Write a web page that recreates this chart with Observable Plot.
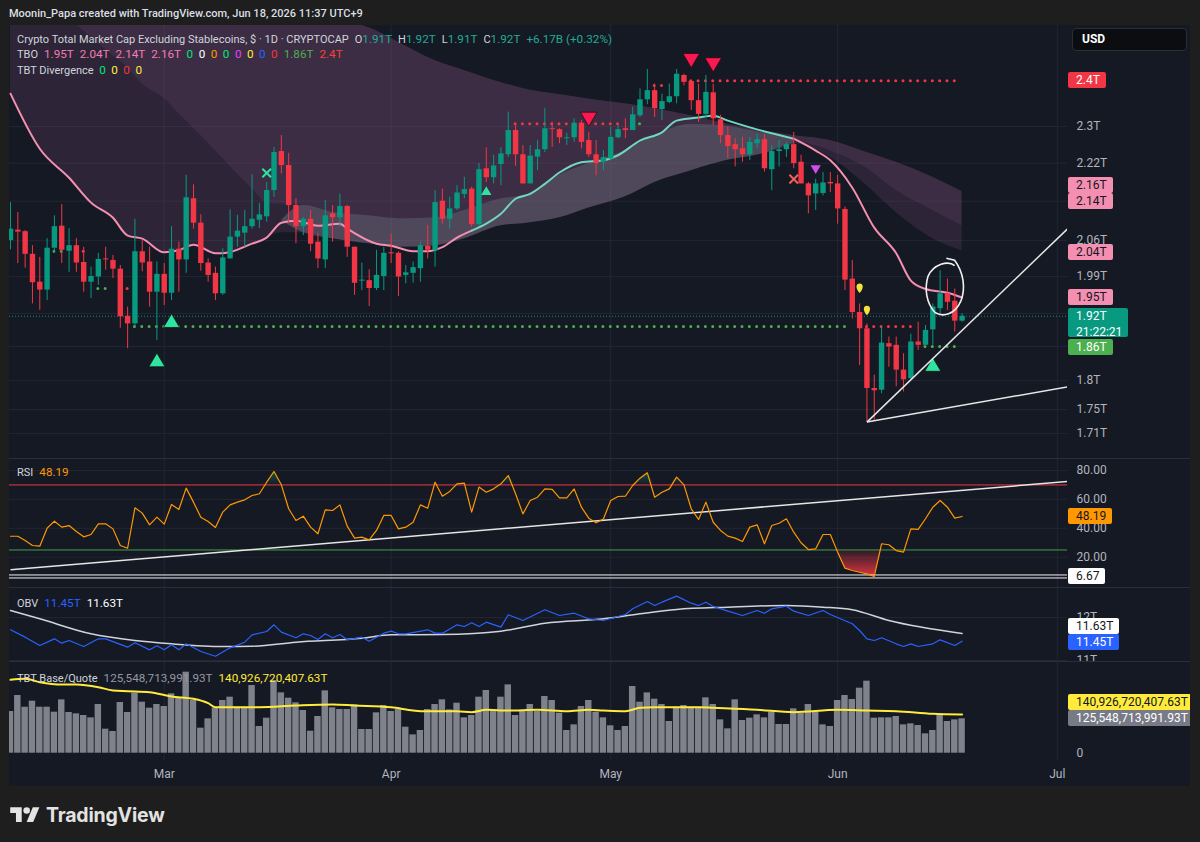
<!DOCTYPE html>
<html>
<head>
<meta charset="utf-8">
<script src="https://cdn.jsdelivr.net/npm/d3@7"></script>
<script src="https://cdn.jsdelivr.net/npm/@observablehq/plot@0.6"></script>
<style>
html,body{margin:0;padding:0;}
body{width:1200px;height:842px;background:#1e1e1e;position:relative;overflow:hidden;font-family:Roboto,"Noto Sans",sans-serif;color:#d1d4dc;}
#hdr{position:absolute;left:9px;top:5px;font-size:11px;font-weight:500;color:#dcdee3;white-space:nowrap;line-height:18px;}
#chart{position:absolute;left:9px;top:25px;width:1181px;height:761px;background:#151924;overflow:hidden;}
.pane{position:absolute;left:0;}
.pane svg{display:block;}
.sep{position:absolute;left:0;width:1181px;height:1px;background:#2a2e39;}
.leg{position:absolute;left:8px;font-size:11.7px;line-height:16px;white-space:nowrap;color:#d1d4dc;}
.leg span{margin-left:6px;}
.leg span.n{margin-left:0;font-size:11px;}
.leg span.z{margin-left:5.5px;}
.tag{position:absolute;left:1059px;font-size:12px;line-height:16px;padding:0 6px 0 8px;border-radius:2px;white-space:nowrap;box-sizing:border-box;}
#usd{position:absolute;left:1063px;top:3px;width:115px;height:23px;background:#0c0d10;border:1px solid #2a2e39;border-radius:4px;box-sizing:border-box;color:#fff;font-weight:700;font-size:12px;line-height:21px;padding-left:9px;}
#logo{position:absolute;left:10px;top:803px;display:flex;align-items:center;}
</style>
</head>
<body>
<svg width="0" height="0" style="position:absolute">
  <defs>
    <linearGradient id="osGrad" x1="0" y1="0" x2="0" y2="1">
      <stop offset="0" stop-color="#f23645" stop-opacity="0.08"/>
      <stop offset="1" stop-color="#f23645" stop-opacity="0.9"/>
    </linearGradient>
    <linearGradient id="obGrad" x1="0" y1="0" x2="0" y2="1">
      <stop offset="0" stop-color="#089981" stop-opacity="0.45"/>
      <stop offset="1" stop-color="#089981" stop-opacity="0.03"/>
    </linearGradient>
  </defs>
</svg>
<div id="hdr">Moonin_Papa created with TradingView.com, Jun 18, 2026 11:37 UTC+9</div>
<div id="chart">
  <div id="usd">USD</div>
</div>
<div id="logo">
  <svg width="30" height="23" viewBox="0 0 36 28"><path fill="#e3e3e3" d="M14 22H7V11H0V4h14v18zM28 22h-8l7.5-18h8L28 22z"/><circle cx="20" cy="8" r="4" fill="#e3e3e3"/></svg>
  <span style="font:700 19.5px Inter,Roboto,sans-serif;color:#e3e3e3;margin-left:6px;letter-spacing:-0.2px">TradingView</span>
</div>
<script>
// ---------------- DATA ----------------
// daily candles from 2026-02-08 (index 0) to 2026-06-18 (index 130), values in T (trillions USD)
const open = [2.060,2.081,2.078,2.033,1.979,1.964,2.045,2.089,2.039,2.050,
2.017,1.979,1.989,2.024,2.021,2.004,1.915,1.901,2.038,2.018,
1.960,1.994,1.958,2.043,2.022,2.145,2.095,2.016,1.996,1.957,
2.024,2.067,2.075,2.088,2.101,2.108,2.162,2.245,2.215,2.131,
2.088,2.103,2.057,2.022,2.114,2.106,2.129,2.047,1.981,1.982,
1.967,1.990,2.036,2.035,1.992,1.996,2.005,2.049,2.040,2.140,
2.103,2.124,2.154,2.165,2.092,2.208,2.189,2.217,2.238,2.291,
2.238,2.176,2.233,2.249,2.295,2.293,2.273,2.275,2.307,2.269,
2.238,2.222,2.229,2.275,2.295,2.291,2.324,2.360,2.381,2.338,
2.354,2.367,2.416,2.402,2.358,2.327,2.376,2.315,2.280,2.260,
2.251,2.238,2.262,2.271,2.206,2.245,2.249,2.260,2.222,2.176,
2.155,2.156,2.179,2.176,2.123,1.985,1.922,1.892,1.786,1.783,
1.865,1.862,1.818,1.803,1.868,1.862,1.890,1.929,1.957,1.943,
1.906];
const high = [2.137,2.117,2.080,2.050,2.027,2.064,2.110,2.133,2.084,2.064,
2.047,2.008,2.035,2.047,2.031,2.011,1.932,2.103,2.060,2.047,
2.018,2.015,2.088,2.057,2.194,2.174,2.112,2.024,2.008,2.044,
2.122,2.111,2.121,2.195,2.135,2.179,2.254,2.280,2.241,2.145,
2.107,2.121,2.074,2.141,2.131,2.155,2.131,2.047,2.016,2.003,
2.041,2.047,2.073,2.038,2.011,2.018,2.057,2.090,2.162,2.165,
2.148,2.172,2.190,2.169,2.219,2.253,2.237,2.253,2.332,2.306,
2.258,2.258,2.269,2.340,2.309,2.295,2.285,2.317,2.313,2.287,
2.269,2.247,2.299,2.302,2.317,2.343,2.385,2.430,2.396,2.373,
2.396,2.430,2.419,2.404,2.396,2.416,2.396,2.325,2.299,2.273,
2.276,2.276,2.283,2.282,2.258,2.269,2.265,2.287,2.237,2.179,
2.186,2.200,2.200,2.194,2.128,2.021,1.938,1.901,1.809,1.895,
1.877,1.877,1.847,1.882,1.904,1.898,1.938,2.001,1.985,1.966,
1.920];
const low = [2.042,2.015,2.006,1.938,1.926,1.944,2.035,2.015,1.998,1.998,
1.960,1.948,1.973,2.002,1.986,1.893,1.856,1.895,1.999,1.932,
1.871,1.935,1.944,1.960,1.996,2.083,2.000,1.979,1.944,1.954,
2.024,2.047,2.047,2.083,2.084,2.097,2.148,2.197,2.094,2.054,
2.070,2.038,2.005,2.005,2.057,2.087,2.027,1.954,1.963,1.933,
1.963,1.963,2.015,1.952,1.976,1.977,1.979,2.024,2.008,2.093,
2.083,2.121,2.145,2.087,2.090,2.179,2.176,2.172,2.232,2.213,
2.175,2.176,2.204,2.243,2.254,2.262,2.258,2.265,2.251,2.232,
2.193,2.204,2.226,2.273,2.273,2.291,2.320,2.349,2.320,2.313,
2.351,2.351,2.392,2.336,2.309,2.317,2.302,2.262,2.229,2.212,
2.222,2.226,2.251,2.201,2.162,2.212,2.232,2.208,2.176,2.114,
2.121,2.151,2.158,2.093,1.963,1.910,1.826,1.729,1.732,1.777,
1.823,1.789,1.780,1.800,1.853,1.862,1.862,1.920,1.926,1.886,
1.904];
const close = [2.083,2.077,2.033,1.978,1.964,2.045,2.088,2.041,2.050,2.016,
1.979,1.990,2.023,2.022,2.004,1.914,1.901,2.038,2.016,1.960,
1.994,1.958,2.043,2.022,2.147,2.095,2.015,1.992,1.957,2.026,
2.067,2.079,2.088,2.103,2.112,2.162,2.243,2.215,2.131,2.088,
2.103,2.053,2.024,2.110,2.106,2.129,2.047,1.977,1.983,1.967,
1.992,2.035,2.034,1.989,1.997,2.007,2.050,2.041,2.137,2.103,
2.124,2.157,2.164,2.092,2.206,2.189,2.214,2.240,2.291,2.238,
2.176,2.235,2.249,2.295,2.293,2.275,2.275,2.307,2.265,2.238,
2.219,2.232,2.276,2.293,2.291,2.326,2.360,2.381,2.340,2.356,
2.367,2.419,2.400,2.358,2.327,2.377,2.317,2.280,2.256,2.249,
2.238,2.265,2.271,2.208,2.245,2.249,2.260,2.219,2.176,2.151,
2.176,2.178,2.176,2.124,1.983,1.922,1.892,1.786,1.782,1.866,
1.859,1.818,1.801,1.868,1.862,1.889,1.932,1.957,1.941,1.906,
1.915];

// TBO fast line (read at day offsets)
const fastDays = [0,4,8,11,14,16,18,21,23,25,28,29,33,35,37,39,42,45,46,50,52,55,57,59,61,63,65,67,69,71,73,75,78,81,83,86,89,91,94,96,98,101,104,107,110,112,115,118,121,123,125,128,130];
const fastVals = [2.374,2.251,2.189,2.137,2.106,2.070,2.064,2.037,2.041,2.052,2.035,2.035,2.054,2.066,2.096,2.100,2.090,2.094,2.084,2.054,2.050,2.039,2.039,2.047,2.066,2.080,2.094,2.114,2.145,2.155,2.176,2.200,2.222,2.226,2.237,2.269,2.287,2.313,2.320,2.324,2.313,2.298,2.285,2.273,2.247,2.226,2.168,2.086,2.035,1.982,1.966,1.959,1.950];

// TBO cloud edges
const cloudDays = [0,4,8,11,14,16,18,21,23,25,28,29,33,35,37,40,44,49,53,58,62,67,70,75,79,84,88,93,98,103,107,112,117,121,126,130];
const cloudTop = [2.700,2.690,2.680,2.670,2.655,2.645,2.640,2.630,2.620,2.610,2.600,2.595,2.580,2.575,2.567,2.560,2.548,2.530,2.495,2.451,2.428,2.400,2.386,2.372,2.362,2.351,2.340,2.324,2.305,2.290,2.280,2.269,2.243,2.222,2.190,2.160];
const cloudMid = [2.679,2.615,2.553,2.507,2.463,2.435,2.396,2.363,2.329,2.296,2.247,2.230,2.166,2.137,2.134,2.131,2.117,2.110,2.104,2.106,2.121,2.145,2.151,2.195,2.220,2.247,2.280,2.305,2.300,2.285,2.270,2.247,2.209,2.162,2.121,2.090];
const cloudBottom = [2.374,2.251,2.189,2.137,2.106,2.070,2.064,2.037,2.041,2.052,2.035,2.035,2.054,2.066,2.076,2.076,2.064,2.054,2.047,2.050,2.064,2.090,2.094,2.106,2.126,2.149,2.179,2.204,2.226,2.241,2.262,2.232,2.172,2.116,2.064,2.040];
const bandDays = [37,40,44,49,53,58,62,67,70,75,79,84,88,93,98,103,107];
const bandTop = [2.100,2.131,2.117,2.110,2.104,2.106,2.121,2.145,2.151,2.195,2.220,2.247,2.280,2.305,2.300,2.285,2.270];
const bandBottom = [2.100,2.076,2.064,2.054,2.047,2.050,2.064,2.090,2.094,2.106,2.126,2.149,2.179,2.204,2.226,2.241,2.262];

// dotted levels [startDay, endDay, value]
const redLevels = [[93,130,2.404],[88,90,2.393],[69,84,2.306],[10,11,2.039],[16,16,1.967],[116,124,1.896]];
const greenLevels = [[6,8,2.039],[12,14,1.967],[17,115,1.896],[86,87,2.306],[125,130,1.860]];

// signal markers [day, value]
const upBig = [[20,1.836],[22,1.907],[126,1.828]];
const upSmall = [[65,2.162]];
const downBig = [[93,2.451],[96,2.441],[79,2.316]];
const downMagenta = [[110,2.206]];
const crossGreen = [[35,2.199]];
const crossRed = [[107,2.186]];
const yellowMarks = [[116,1.968],[117,1.926]];

// drawings [day1, value1, day2, value2]
const mainTrend = [[117,1.729,144.5,2.085],[117,1.729,144.5,1.789]];
const circleAnno = [[127.6,1.967]];
const rsiTrend = [[0,11.3,144.5,72.4]];
const rsiLowLine = 6.67;

// RSI (daily)
const rsi = [34.5,34.5,31.6,28.1,27.6,40.1,44.9,40.8,41.9,37.8,
34.1,35.7,43.1,43.1,39.6,28.1,26.2,54.2,50.5,42.4,
47.7,42.9,56.5,53.0,67.8,58.1,47.7,44.7,40.6,51.2,
56.2,58.1,59.7,62.7,63.9,71.9,79.3,70.1,53.5,45.4,
48.4,40.8,36.2,52.8,52.3,56.2,41.5,33.2,33.9,32.0,
38.5,48.9,48.9,39.6,40.8,44.2,56.2,53.9,71.9,62.2,
65.5,70.8,71.2,51.2,68.5,65.0,67.3,70.8,76.5,63.9,
50.0,59.2,61.5,67.3,66.9,61.1,61.1,67.3,54.6,47.0,
43.8,46.5,59.2,62.0,62.2,69.6,74.7,78.4,61.5,65.0,
67.3,75.4,70.1,53.5,46.1,58.1,44.2,38.5,34.6,33.2,
30.9,40.8,42.4,29.3,41.9,43.5,46.6,37.3,30.0,25.3,
25.8,35.7,35.7,23.5,12.4,10.8,9.6,8.5,6.67,29.3,
28.6,24.6,23.5,39.6,39.2,46.6,54.6,59.2,54.6,47.0,
48.19];
const rsiLevels = {upper: 70, lower: 25};

// OBV (T) at day offsets
const obvDays = [0,2,4,6,7,8,10,12,13,16,17,19,20,21,22,23,24,26,28,30,32,33,35,36,37,39,40,41,42,43,44,45,46,48,49,51,52,53,54,57,58,59,61,62,63,64,65,67,68,70,73,75,77,79,81,84,85,87,88,89,91,93,94,95,96,98,100,102,103,104,106,107,109,111,112,115,116,117,118,119,121,122,123,124,126,127,129,130];
const obvVals = [11.714,11.543,11.349,11.504,11.403,11.465,11.326,11.504,11.504,11.310,11.412,11.248,11.341,11.248,11.364,11.248,11.388,11.209,11.100,11.295,11.426,11.597,11.674,11.830,11.659,11.528,11.621,11.581,11.488,11.621,11.528,11.605,11.481,11.543,11.450,11.636,11.682,11.621,11.621,11.714,11.636,11.636,11.830,11.791,11.876,11.791,11.891,11.775,12.063,11.930,12.179,12.047,12.100,11.970,11.930,12.070,12.202,12.372,12.279,12.356,12.496,12.333,12.279,12.356,12.256,12.147,12.047,12.163,12.100,12.202,12.263,12.147,12.047,12.163,12.070,11.853,11.698,11.504,11.465,11.528,11.388,11.326,11.388,11.326,11.388,11.481,11.349,11.450];
const obvMaDays = [0,4,11,17,22,29,33,39,48,52,59,67,73,81,86,91,98,106,111,115,120,130];
const obvMaVals = [12.163,11.970,11.621,11.465,11.388,11.326,11.333,11.426,11.519,11.597,11.605,11.682,11.868,11.970,12.086,12.186,12.240,12.279,12.240,12.179,11.930,11.630];

// TBT Base/Quote volume (billions of T), daily
const volume = [152.2,210.6,167.9,189.9,167.9,167.9,149.8,194.8,148.6,143.7,
137.6,129.1,177.8,87.7,79.2,185.1,148.6,219.1,186.3,164.4,
177.8,170.5,216.7,200.9,295.8,192.4,91.4,125.4,165.6,192.4,
204.5,167.9,167.9,247.1,97.5,127.9,265.4,220.3,200.9,183.9,
155.9,80.4,134.0,227.6,165.6,159.5,159.5,176.5,86.5,86.5,
147.3,174.1,152.2,159.5,95.0,67.0,82.9,159.5,177.8,194.8,
158.3,182.6,129.1,137.6,204.5,228.9,155.9,204.5,249.5,137.6,
153.4,177.8,152.2,207.0,192.4,146.1,82.9,103.5,170.5,192.4,
149.8,129.1,100.0,82.9,97.5,243.5,186.3,220.3,197.2,177.8,
115.7,167.9,174.1,167.9,167.9,202.1,177.8,121.8,88.9,194.8,
119.4,127.9,140.0,129.1,149.8,104.8,104.8,161.9,146.1,177.8,
149.8,103.5,97.5,192.4,210.6,196.0,237.4,262.9,127.9,129.1,
129.1,134.0,103.5,107.2,101.1,70.7,82.9,137.6,115.7,121.8,
125.549];
const volMaDays = [0,2,4,7,9,12,14,16,19,22,25,27,28,31,34,39,44,47,52,55,56,61,63,65,68,72,76,79,81,84,86,88,94,96,102,107,113,117,121,126,130];
const volMaVals = [267.8,271.5,259.3,250.8,250.8,241.0,228.9,226.4,222.8,207.0,198.5,182.6,167.9,167.9,167.9,174.1,177.8,174.1,167.9,155.9,153.4,153.4,149.8,158.3,155.9,158.3,153.4,158.3,155.9,153.4,165.6,167.9,167.9,165.6,158.3,149.8,158.3,155.9,153.4,143.7,140.93];

// axis ticks (gridlines at all; labels only where not covered by a value tag)
const priceTicks = [2.3,2.22,2.14,2.06,1.99,1.92,1.86,1.8,1.75,1.71];
const priceTickLabels = [2.3,2.22,2.06,1.99,1.8,1.75,1.71];
const rsiTicks = [20,40,60,80];
const obvTicks = [11,12];
const volTicks = [0];
const monthStarts = ["2026-03-01","2026-04-01","2026-05-01","2026-06-01","2026-07-01"];
const lastVolText = "125,548,713,991.93T";
const lastVolMaText = "140,926,720,407.63T";
const tboLast = [1.95, 2.04, 2.14, 2.16];

// ---------------- CHART ----------------
const FONT = 'Roboto, "Noto Sans", sans-serif';
const START = Date.UTC(2026, 1, 8), DAY = 864e5;
const at = i => new Date(START + i * DAY);
const W = 1181, MR = 123;
const xOpt = {type: "utc", domain: [at(-0.1366), at(144.4)], axis: null};
const months = monthStarts.map(s => new Date(s + "T00:00:00Z"));
const GRID = "#222633";
const UP = "#089981", DOWN = "#f23645";
const style = {background: "transparent", color: "#b2b5be", fontFamily: FONT, fontSize: "12px"};
const pair = (days, vals) => days.map((d, i) => ({date: at(d), v: vals[i]}));
const pt = a => a.map(d => ({date: at(d[0]), v: d[1]}));

function pane(height, y, marks) {
  return Plot.plot({width: W, height, marginLeft: 0, marginRight: MR, marginTop: 0, marginBottom: 0,
    style, x: xOpt, y: Object.assign({label: null}, y), marks});
}
const rightAxis = (ticks, fmt) => Plot.axisY(ticks, {anchor: "right", tickSize: 0, tickPadding: 9, tickFormat: fmt, label: null});

const candles = open.map((o, i) => ({date: at(i), o, h: high[i], l: low[i], c: close[i], col: close[i] >= o ? UP : DOWN}));
const cloud = cloudDays.map((d, i) => ({date: at(d), top: cloudTop[i], mid: cloudMid[i], bottom: cloudBottom[i]}));
const band = bandDays.map((d, i) => ({date: at(d), top: bandTop[i], bottom: bandBottom[i]}));
const fast = pair(fastDays, fastVals);
const fastP1 = fast.filter(d => d.date <= at(63));
const fastT = fast.filter(d => d.date >= at(63) && d.date <= at(107));
const fastP2 = fast.filter(d => d.date >= at(107));

const triUp = {draw(ctx, size) { const r = Math.sqrt(size / Math.PI), w = r * 1.35, h = r * 1.15; ctx.moveTo(0, -h); ctx.lineTo(w, h); ctx.lineTo(-w, h); ctx.closePath(); }};
const triDown = {draw(ctx, size) { const r = Math.sqrt(size / Math.PI), w = r * 1.35, h = r * 1.15; ctx.moveTo(-w, -h); ctx.lineTo(w, -h); ctx.lineTo(0, h); ctx.closePath(); }};
const drop = {draw(ctx, size) { const r = Math.sqrt(size / Math.PI); ctx.moveTo(0, r * 1.3); ctx.bezierCurveTo(-r * 1.2, 0, -r, -r * 1.2, 0, -r * 1.2); ctx.bezierCurveTo(r, -r * 1.2, r * 1.2, 0, 0, r * 1.3); ctx.closePath(); }};
const ellipse = {draw(ctx, size) {
  const r = Math.sqrt(size / Math.PI), rx = r * 0.68, ry = r, k = 0.5523;
  ctx.moveTo(rx * 0.55, -ry * 0.85);
  ctx.bezierCurveTo(rx * 0.2, -ry * 1.05, -rx * 0.6, -ry * 0.9, -rx * 0.9, -ry * 0.45);
  ctx.bezierCurveTo(-rx * 1.1, 0, -rx * 1.0, ry * k, -rx * 0.5, ry * 0.9);
  ctx.bezierCurveTo(-rx * 0.1, ry * 1.05, rx * k, ry, rx * 0.9, ry * 0.45);
  ctx.bezierCurveTo(rx * 1.15, 0, rx * 1.05, -ry * 0.6, rx * 0.55, -ry * 1.05);
  ctx.lineTo(rx * 0.1, -ry * 1.12);
}};

const levelMark = (lv, color) => Plot.ruleY(lv, {x1: d => at(d[0]), x2: d => at(d[1]), y: d => d[2], stroke: color, strokeWidth: 3, strokeLinecap: "round", strokeDasharray: "0 7.32"});

const mainPlot = pane(433, {type: "log", domain: [1.6693, 2.5355]}, [
  Plot.gridY(priceTicks, {stroke: GRID, strokeOpacity: 1}),
  Plot.gridX(months, {stroke: GRID, strokeOpacity: 1}),
  Plot.areaY(cloud, {x: "date", y1: "bottom", y2: "top", fill: "rgb(150,90,140)", fillOpacity: 0.19, curve: "monotone-x", clip: true}),
  Plot.areaY(cloud, {x: "date", y1: "mid", y2: "top", fill: "rgb(155,100,150)", fillOpacity: 0.14, curve: "monotone-x", clip: true}),
  Plot.areaY(band, {x: "date", y1: "bottom", y2: "top", fill: "rgb(210,200,220)", fillOpacity: 0.21, curve: "monotone-x", clip: true}),
  Plot.ruleY([close[close.length - 1]], {stroke: UP, strokeDasharray: "1 2", strokeOpacity: 0.9}),
  levelMark(redLevels, "#f23645"),
  levelMark(greenLevels, "#4caf50"),
  Plot.line(fastP1, {x: "date", y: "v", stroke: "#f48fb1", strokeWidth: 2, curve: "monotone-x"}),
  Plot.line(fastT, {x: "date", y: "v", stroke: "#6fd8bd", strokeWidth: 2, curve: "monotone-x"}),
  Plot.line(fastP2, {x: "date", y: "v", stroke: "#f48fb1", strokeWidth: 2, curve: "monotone-x"}),
  Plot.ruleX(candles, {x: "date", y1: "l", y2: "h", stroke: "col", strokeWidth: 1}),
  Plot.ruleX(candles, {x: "date", y1: "o", y2: "c", stroke: "col", strokeWidth: 5.4}),
  Plot.dot(pt(upBig), {x: "date", y: "v", symbol: triUp, r: 6, fill: "#2fe3a2", stroke: "#0c1a14", strokeWidth: 0.8}),
  Plot.dot(pt(upSmall), {x: "date", y: "v", symbol: triUp, r: 3.8, fill: "#2fe3a2"}),
  Plot.dot(pt(downBig), {x: "date", y: "v", symbol: triDown, r: 6.2, fill: "#f7194f", stroke: "#2a0a10", strokeWidth: 0.8}),
  Plot.dot(pt(downMagenta), {x: "date", y: "v", symbol: triDown, r: 3.8, fill: "#d24bf2"}),
  Plot.dot(pt(crossGreen), {x: "date", y: "v", symbol: "times", r: 4, stroke: "#2fe3a2", strokeWidth: 2}),
  Plot.dot(pt(crossRed), {x: "date", y: "v", symbol: "times", r: 4, stroke: "#f0605a", strokeWidth: 2}),
  Plot.dot(pt(yellowMarks), {x: "date", y: "v", symbol: drop, r: 3.8, fill: "#f5e23a"}),
  Plot.link(mainTrend, {x1: d => at(d[0]), y1: d => d[1], x2: d => at(d[2]), y2: d => d[3], stroke: "#e6e6e6", strokeWidth: 1.5, clip: true}),
  Plot.dot(pt(circleAnno), {x: "date", y: "v", symbol: ellipse, r: 27, fill: "none", stroke: "#f0f0f0", strokeWidth: 1.6}),
  rightAxis(priceTickLabels, d => d + "T")
]);

const rsiData = rsi.map((v, i) => ({date: at(i), v}));
const rsiPlot = pane(128, {domain: [-0.97, 87.61]}, [
  Plot.gridY(rsiTicks, {stroke: GRID, strokeOpacity: 1}),
  Plot.gridX(months, {stroke: GRID, strokeOpacity: 1}),
  Plot.areaY(rsiData, {x: "date", y1: rsiLevels.upper, y2: d => Math.max(d.v, rsiLevels.upper), fill: "url(#obGrad)"}),
  Plot.areaY(rsiData, {x: "date", y1: rsiLevels.lower, y2: d => Math.min(d.v, rsiLevels.lower), fill: "url(#osGrad)"}),
  Plot.ruleY([rsiLevels.upper], {stroke: "#f23645", strokeWidth: 1}),
  Plot.ruleY([rsiLevels.lower], {stroke: "#43a047", strokeWidth: 1}),
  Plot.ruleY([rsiLowLine], {stroke: "#f2f2f2", strokeWidth: 1, dy: -1.5}),
  Plot.ruleY([rsiLowLine], {stroke: "#f2f2f2", strokeWidth: 1, dy: 1.5}),
  Plot.link(rsiTrend, {x1: d => at(d[0]), y1: d => d[1], x2: d => at(d[2]), y2: d => d[3], stroke: "#e6e6e6", strokeWidth: 1.5, clip: true}),
  Plot.line(rsiData, {x: "date", y: "v", stroke: "#ff9800", strokeWidth: 1.2}),
  rightAxis(rsiTicks, d => d.toFixed(2))
]);

const obvPlot = pane(73, {domain: [10.977, 12.674]}, [
  Plot.gridY(obvTicks, {stroke: GRID, strokeOpacity: 1}),
  Plot.gridX(months, {stroke: GRID, strokeOpacity: 1}),
  Plot.line(pair(obvMaDays, obvMaVals), {x: "date", y: "v", stroke: "#d1d4dc", strokeWidth: 1.5, curve: "monotone-x"}),
  Plot.line(pair(obvDays, obvVals), {x: "date", y: "v", stroke: "#2962ff", strokeWidth: 1.2}),
  rightAxis(obvTicks, d => d + "T")
]);

const volData = volume.map((v, i) => ({i, v}));
const volPlot = pane(98, {domain: [-26.65, 331.1]}, [
  Plot.gridX(months, {stroke: GRID, strokeOpacity: 1}),
  Plot.rect(volData, {x1: d => at(d.i - 0.44), x2: d => at(d.i + 0.44), y1: 0, y2: "v", fill: "#7f818b"}),
  Plot.line(pair(volMaDays, volMaVals), {x: "date", y: "v", stroke: "#ffeb3b", strokeWidth: 2, curve: "monotone-x"}),
  rightAxis(volTicks, d => String(d))
]);

const timePlot = Plot.plot({width: W, height: 26, marginLeft: 0, marginRight: MR, marginTop: 0, marginBottom: 0,
  style, x: xOpt,
  marks: [Plot.text(months, {x: d => d, text: d => d3.utcFormat("%b")(d), frameAnchor: "middle", dy: 1, fill: "#b2b5be", fontSize: 12})]
});

// ---------------- LAYOUT ----------------
const chart = document.getElementById("chart");
const PANE = {main: 0, rsi: 434, obv: 563, vol: 637, time: 735};
function place(node, top) { const d = document.createElement("div"); d.className = "pane"; d.style.top = top + "px"; d.appendChild(node); chart.insertBefore(d, chart.firstChild); }
place(timePlot, PANE.time); place(volPlot, PANE.vol); place(obvPlot, PANE.obv); place(rsiPlot, PANE.rsi); place(mainPlot, PANE.main);
for (const t of [433, 562, 636]) { const s = document.createElement("div"); s.className = "sep"; s.style.top = t + "px"; chart.appendChild(s); }

function legend(top, html) { const d = document.createElement("div"); d.className = "leg"; d.style.top = top + "px"; d.innerHTML = html; chart.appendChild(d); }
const S = (c, t) => `<span style="color:${c}">${t}</span>`;
const Z = c => `<span class="z" style="color:${c}">0</span>`;
const TEAL = "#22ab94", PINK = "#f27db0";
const ohlc = (k, v) => `<span><i style="font-style:normal;font-size:11px">${k}</i><b style="font-weight:400;color:${TEAL}">${v}</b></span>`;
legend(6, `<span class="n">Crypto Total Market Cap Excluding Stablecoins, $ · 1D · CRYPTOCAP</span>${ohlc("O","1.91T")}${ohlc("H","1.92T")}${ohlc("L","1.91T")}${ohlc("C","1.92T")}${S(TEAL, "+6.17B (+0.32%)")}`);
legend(21, `<span class="n">TBO</span>${tboLast.map(v => S(PINK, v.toFixed(2) + "T")).join("")}${Z("#00e676")}${Z("#ffffff")}${Z("#ff9800")}${Z("#00e676")}${Z("#e040fb")}${Z("#ffeb3b")}${Z("#2962ff")}${Z("#f23645")}${S("#4caf50","1.86T")}${S("#f44336","2.4T")}`);
legend(37, `<span class="n">TBT Divergence</span>${Z("#00e676")}${Z("#ffeb3b")}${Z("#f23645")}${Z("#ffeb3b")}`);
legend(439, `<span class="n">RSI</span>${S("#ff9800", rsi[rsi.length - 1].toFixed(2))}`);
legend(570, `<span class="n">OBV</span>${S("#2962ff", obvVals[obvVals.length - 1].toFixed(2) + "T")}${S("#ffffff", obvMaVals[obvMaVals.length - 1].toFixed(2) + "T")}`);
legend(645, `<span class="n">TBT Base/Quote</span>${S("#9598a1", lastVolText)}${S("#ffeb3b", lastVolMaText)}`);

function tag(text, center, bg, fg, h = 16) {
  const d = document.createElement("div"); d.className = "tag";
  d.style.top = (center - 8) + "px"; d.style.height = h + "px";
  d.style.background = bg; d.style.color = fg; d.innerHTML = text;
  chart.appendChild(d);
}
const yM = v => PANE.main + mainPlot.scale("y").apply(v);
const yR = v => PANE.rsi + rsiPlot.scale("y").apply(v);
const yO = v => PANE.obv + obvPlot.scale("y").apply(v);
const yV = v => PANE.vol + volPlot.scale("y").apply(v);
const PINKBG = "#f48fb1", DARK = "#131722";
tag("2.4T", yM(redLevels[0][2]), "#f23645", "#fff");
tag("2.14T", yM(tboLast[2]), PINKBG, DARK);
tag("2.16T", yM(tboLast[2]) - 16, PINKBG, DARK);
tag("2.04T", yM(tboLast[1]) + 2, PINKBG, DARK);
tag("1.95T", yM(tboLast[0]), PINKBG, DARK);
tag("1.92T<br>21:22:21", yM(close[close.length - 1]), UP, "#fff", 29);
tag("1.86T", yM(greenLevels[4][2]) + 1.5, "#4caf50", "#fff");
tag(rsi[rsi.length - 1].toFixed(2), yR(rsi[rsi.length - 1]), "#ff9800", DARK);
tag(rsiLowLine.toFixed(2), yR(rsiLowLine), "#ffffff", DARK);
tag(obvVals[obvVals.length - 1].toFixed(2) + "T", yO(obvVals[obvVals.length - 1]) + 1, "#2962ff", "#fff");
tag(obvMaVals[obvMaVals.length - 1].toFixed(2) + "T", yO(obvVals[obvVals.length - 1]) - 15, "#ffffff", DARK);
tag(lastVolText, yV(volume[volume.length - 1]), "#787b86", "#fff");
tag(lastVolMaText, yV(volume[volume.length - 1]) - 16, "#ffeb3b", DARK);
</script>
</body>
</html>
